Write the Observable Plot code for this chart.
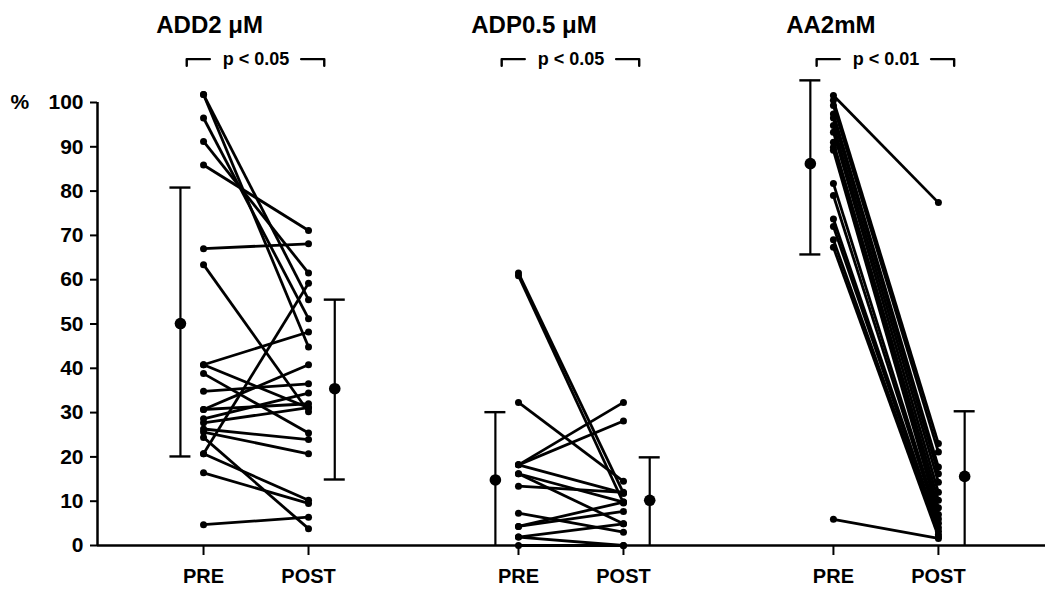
<!DOCTYPE html>
<html>
<head>
<meta charset="utf-8">
<script src="https://cdn.jsdelivr.net/npm/d3@7"></script>
<script src="https://cdn.jsdelivr.net/npm/@observablehq/plot@0.6"></script>
<style>
  html, body { margin: 0; padding: 0; background: #fff; }
  svg text { font-family: "Liberation Sans", Arial, sans-serif; }
</style>
</head>
<body>
<div id="chart"></div>
<script>
// ---- data ----
const panels = ["ADD2 μM", "ADP0.5 μM", "AA2mM"];
const phases = ["PRE", "POST"];
const pLabels = ["p < 0.05", "p < 0.05", "p < 0.01"];

const add2Pre  = [101.8, 101.8, 96.5, 91.2, 85.9, 67.0, 63.4, 20.7, 40.8, 40.8, 38.8, 34.8, 30.7, 30.7, 28.6, 27.7, 26.3, 25.6, 24.4, 20.7, 16.4, 4.7];
const add2Post = [44.8, 55.5, 51.2, 61.5, 71.1, 68.1, 30.2, 59.2, 48.2, 31.1, 25.4, 36.5, 32.0, 40.8, 34.4, 31.1, 23.9, 20.7, 3.8, 10.2, 9.5, 6.4];

const adpPre  = [61.5, 60.9, 32.3, 18.2, 18.2, 18.2, 16.2, 16.2, 13.4, 7.3, 4.3, 4.3, 1.9, 0, 1.9];
const adpPost = [11.8, 9.6, 14.5, 32.3, 28.1, 11.8, 9.8, 4.9, 12.0, 3.0, 7.7, 9.8, 4.9, 0, 0];

const aaPre  = [101.6, 100.5, 99.3, 97.4, 96.5, 94.8, 93.3, 91.0, 89.9, 89.2, 81.7, 79.0, 73.7, 72.0, 69.0, 67.3, 5.9];
const aaPost = [77.4, 23.0, 21.1, 17.7, 16.2, 14.3, 12.0, 10.2, 8.5, 7.0, 6.0, 5.0, 4.0, 3.2, 2.5, 2.0, 1.6];

const meanPre  = [50.1, 14.8, 86.2];
const upperPre = [80.8, 30.1, 105.0];
const lowerPre = [20.1, 0, 65.7];
const meanPost  = [35.4, 10.2, 15.6];
const upperPost = [55.5, 19.9, 30.3];
const lowerPost = [14.9, 0, 0];

const yTicks = [0, 10, 20, 30, 40, 50, 60, 70, 80, 90, 100];

// ---- layout helpers (positions on the x scale) ----
const groupStep = 3;             // PRE at 0, POST at 1, next panel at 3 ...
const sumOffset = [-0.22, 1.25]; // mean ± SD markers beside the columns
const xDomain = [-1.01, 8.02];

const series = [[add2Pre, add2Post], [adpPre, adpPost], [aaPre, aaPost]];
const pairs = series.flatMap(([pre, post], g) =>
  pre.map((v, i) => ({g, pre: v, post: post[i]})));
const points = pairs.flatMap(d => [
  {x: d.g * groupStep, y: d.pre},
  {x: d.g * groupStep + 1, y: d.post}
]);
const summary = panels.flatMap((p, g) => [
  {x: g * groupStep + sumOffset[0], m: meanPre[g], hi: upperPre[g], lo: lowerPre[g]},
  {x: g * groupStep + sumOffset[1], m: meanPost[g], hi: upperPost[g], lo: lowerPost[g]}
]);
const caps = summary.flatMap(s => [{x: s.x, y: s.hi}, {x: s.x, y: s.lo}]).filter(c => c.y > 0);

const brTop = 109.8, brEnd = 108.3;
const brackets = panels.flatMap((p, g) => {
  const a = g * groupStep - 0.16, b = g * groupStep + 1.15;
  return [
    {k: g + "L", x: a, y: brEnd}, {k: g + "L", x: a, y: brTop}, {k: g + "L", x: a + 0.22, y: brTop},
    {k: g + "R", x: b - 0.22, y: brTop}, {k: g + "R", x: b, y: brTop}, {k: g + "R", x: b, y: brEnd}
  ];
});

const chart = Plot.plot({
  width: 1057,
  height: 592,
  marginLeft: 97,
  marginRight: 12,
  marginTop: 102,
  marginBottom: 47,
  style: {fontFamily: "'Liberation Sans', Arial, sans-serif", color: "black", background: "white"},
  x: {domain: xDomain, axis: null},
  y: {domain: [0, 100], axis: null},
  marks: [
    Plot.axisY({ticks: yTicks, tickSize: 7, tickPadding: 7, fontSize: 21, fontWeight: "bold", strokeWidth: 2, anchor: "left", label: null}),
    Plot.axisX({
      ticks: panels.flatMap((p, g) => [g * groupStep, g * groupStep + 1]),
      tickFormat: d => phases[Math.round(d) % groupStep],
      tickSize: 10, tickPadding: 13, fontSize: 20, fontWeight: "bold", strokeWidth: 2, anchor: "bottom", label: null
    }),
    Plot.ruleX([xDomain[0]], {y1: 0, y2: 100, strokeWidth: 2.5}),
    Plot.ruleY([0], {x1: xDomain[0], x2: xDomain[1], strokeWidth: 2.5}),
    Plot.text(["%"], {x: xDomain[0], y: 100, dx: -87, textAnchor: "start", fontSize: 21, fontWeight: "bold"}),
    // paired lines
    Plot.link(pairs, {x1: d => d.g * groupStep, y1: "pre", x2: d => d.g * groupStep + 1, y2: "post", stroke: "black", strokeWidth: 2.8}),
    Plot.dot(points, {x: "x", y: "y", r: 3.5, fill: "black"}),
    // mean ± SD
    Plot.ruleX(summary, {x: "x", y1: "lo", y2: "hi", strokeWidth: 2.2}),
    Plot.ruleY(caps, {y: "y", x1: d => d.x - 0.1, x2: d => d.x + 0.1, strokeWidth: 2.4}),
    Plot.dot(summary, {x: "x", y: "m", r: 5.8, fill: "black"}),
    // titles and significance brackets
    Plot.text(panels, {x: (d, i) => i * groupStep - 0.45, y: 115.8, text: d => d, textAnchor: "start", lineAnchor: "bottom", fontSize: 24, fontWeight: "bold"}),
    Plot.line(brackets, {x: "x", y: "y", z: "k", strokeWidth: 2.4}),
    Plot.text(pLabels, {x: (d, i) => i * groupStep + 0.5, y: brTop, text: d => d, fontSize: 18, fontWeight: "bold", lineAnchor: "middle"})
  ]
});
document.getElementById("chart").appendChild(chart);
</script>
</body>
</html>
